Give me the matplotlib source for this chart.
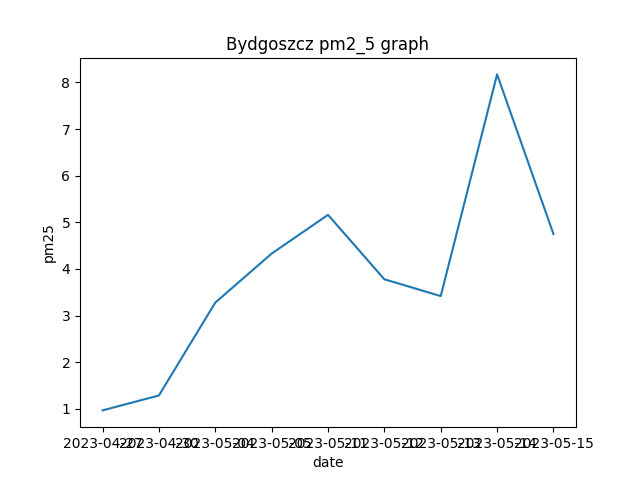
import matplotlib
matplotlib.use("Agg")
import matplotlib.pyplot as plt

dates = ["2023-04-27", "2023-04-30", "2023-05-04", "2023-05-05", "2023-05-11",
         "2023-05-12", "2023-05-13", "2023-05-14", "2023-05-15"]
pm25 = [0.97, 1.29, 3.28, 4.33, 5.16, 3.78, 3.42, 8.17, 4.75]

fig, ax = plt.subplots(figsize=(6.4, 4.8), dpi=100)
ax.plot(dates, pm25)
ax.set_title("Bydgoszcz pm2_5 graph")
ax.set_xlabel("date")
ax.set_ylabel("pm25")
plt.savefig("out.png")
